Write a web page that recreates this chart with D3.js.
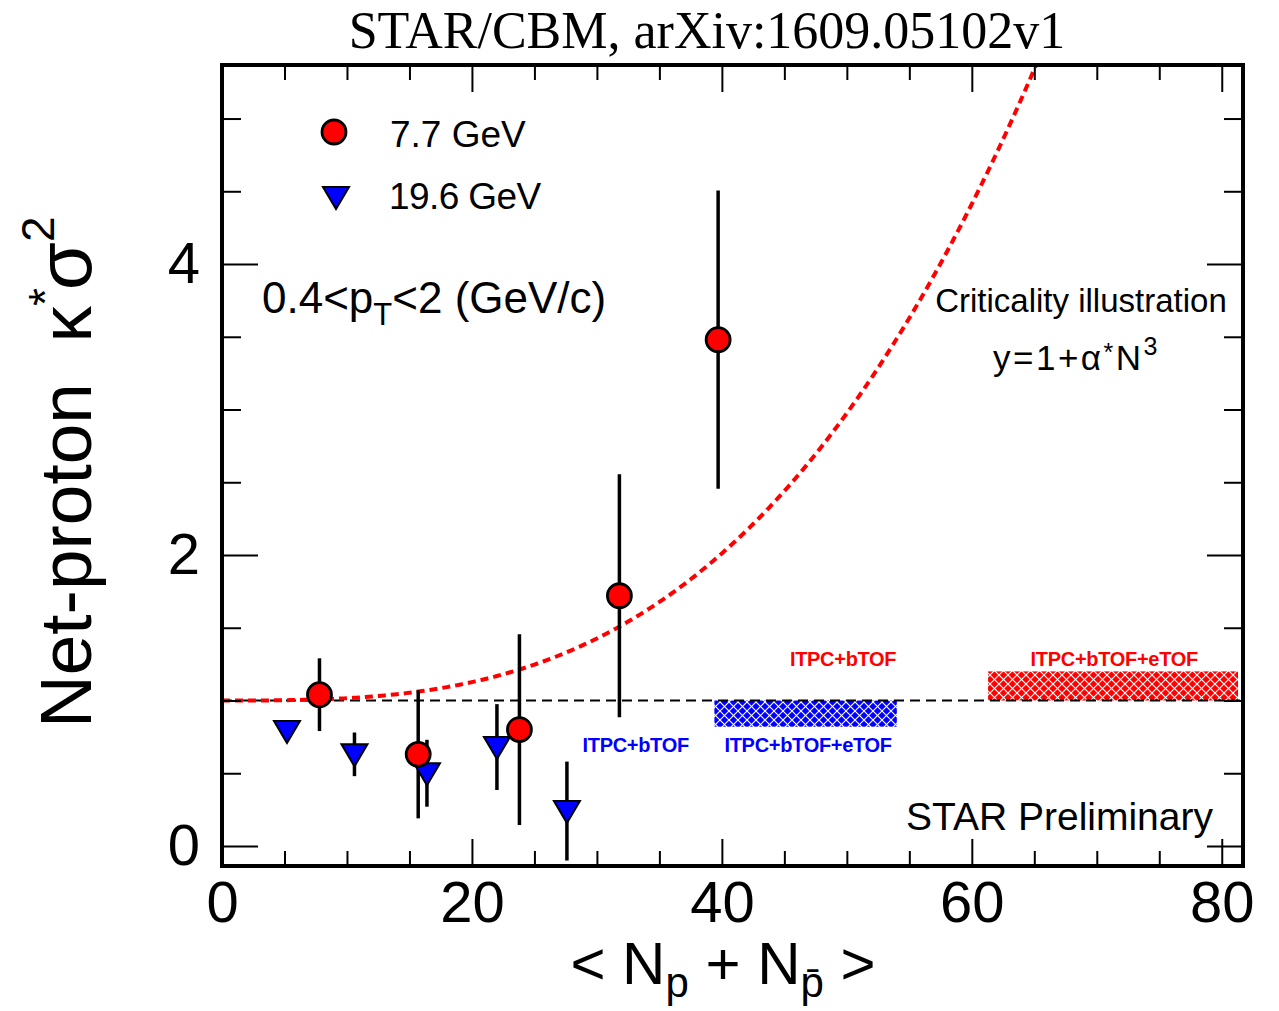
<!DOCTYPE html>
<html>
<head>
<meta charset="utf-8">
<script src="https://cdn.jsdelivr.net/npm/d3@7"></script>
<style>
  html, body { margin: 0; padding: 0; background: #fff; }
  svg { display: block; }
</style>
</head>
<body>
<svg id="chart" width="1279" height="1011"></svg>
<script>
// ---- data ----
const np77  = [7.8, 15.7, 23.8, 31.8, 39.7];
const kap77 = [1.04, 0.63, 0.80, 1.72, 3.48];
const err77 = [0.25, 0.44, 0.655, 0.835, 1.025];

const np196  = [5.2, 10.6, 16.4, 22.0, 27.6];
const kap196 = [0.79, 0.63, 0.50, 0.68, 0.24];
const err196 = [0.0, 0.15, 0.23, 0.295, 0.34];

// projected-uncertainty bands: [xStart, xEnd, yLow, yHigh]
const bandBlue = [[39.4, 54.0, 0.82, 1.0]];
const bandRed  = [[61.3, 74.1, 1.0, 1.20], [74.1, 81.3, 1.0, 1.20]];

// criticality illustration y = 1 + alpha * N^3
const alpha = 1.58e-5;

const xMajor = [0, 20, 40, 60, 80];
const xMinor = [5, 10, 15, 25, 30, 35, 45, 50, 55, 65, 70, 75];
const yMajor = [0, 2, 4];
const yMinor = [0.5, 1, 1.5, 2.5, 3, 3.5, 4.5, 5];

// ---- layout ----
const L = 222, R = 1243, T = 65, B = 866;
const x = d3.scaleLinear().domain([0, 81.7]).range([L, R]);
const y = d3.scaleLinear().domain([-0.1375, 5.368]).range([B, T]);

const svg = d3.select("#chart");
const sans = "'Liberation Sans', Arial, Helvetica, sans-serif";

const defs = svg.append("defs");
defs.append("clipPath").attr("id", "plotClip")
  .append("rect").attr("x", L).attr("y", T).attr("width", R - L).attr("height", B - T);

function hatch(id, color) {
  const p = defs.append("pattern").attr("id", id)
    .attr("patternUnits", "userSpaceOnUse").attr("width", 9).attr("height", 9);
  p.append("rect").attr("width", 9).attr("height", 9).attr("fill", color);
  p.append("path").attr("d", "M0,9 L9,0 M-2,2 L2,-2 M7,11 L11,7")
    .attr("stroke", "#fff").attr("stroke-width", 1.1);
  p.append("path").attr("d", "M0,0 L9,9 M-2,7 L2,11 M7,-2 L11,2")
    .attr("stroke", "#fff").attr("stroke-width", 1.1);
}
hatch("hatchBlue", "#0000ff");
hatch("hatchRed", "#ff0000");

// ---- title ----
svg.append("text").attr("x", 707).attr("y", 48)
  .attr("text-anchor", "middle")
  .attr("font-family", "'Liberation Serif', 'Times New Roman', serif")
  .attr("font-size", 52).attr("fill", "#000")
  .text("STAR/CBM, arXiv:1609.05102v1");

const plot = svg.append("g").attr("clip-path", "url(#plotClip)");

// ---- bands ----
plot.selectAll("rect.bb").data(bandBlue).join("rect").attr("class", "bb")
  .attr("x", d => x(d[0])).attr("width", d => x(d[1]) - x(d[0]))
  .attr("y", d => y(d[3])).attr("height", d => y(d[2]) - y(d[3]))
  .attr("fill", "url(#hatchBlue)");
plot.selectAll("rect.br").data(bandRed).join("rect").attr("class", "br")
  .attr("x", d => x(d[0])).attr("width", d => x(d[1]) - x(d[0]))
  .attr("y", d => y(d[3])).attr("height", d => y(d[2]) - y(d[3]))
  .attr("fill", "url(#hatchRed)");

// ---- reference line at 1 ----
plot.append("line")
  .attr("x1", x(0)).attr("x2", x(81.7)).attr("y1", y(1)).attr("y2", y(1))
  .attr("stroke", "#000").attr("stroke-width", 2.2).attr("stroke-dasharray", "10,6");

// ---- criticality curve ----
const curveN = d3.range(0, 68.01, 0.25);
plot.append("path")
  .datum(curveN)
  .attr("d", d3.line().x(n => x(n)).y(n => y(1 + alpha * n * n * n)))
  .attr("fill", "none").attr("stroke", "#ff0000").attr("stroke-width", 4)
  .attr("stroke-dasharray", "8,5");

// ---- error bars ----
function errBars(cls, xs, ys, es) {
  plot.selectAll("line." + cls).data(xs.map((v, i) => [v, ys[i], es[i]]).filter(d => d[2] > 0))
    .join("line").attr("class", cls)
    .attr("x1", d => x(d[0])).attr("x2", d => x(d[0]))
    .attr("y1", d => y(d[1] - d[2])).attr("y2", d => y(d[1] + d[2]))
    .attr("stroke", "#000").attr("stroke-width", 3.5);
}
errBars("e196", np196, kap196, err196);
errBars("e77", np77, kap77, err77);

// ---- markers ----
const triPath = "M-13,-10 L13,-10 L0,12 Z";
plot.selectAll("path.t196").data(np196.map((v, i) => [v, kap196[i]])).join("path")
  .attr("class", "t196")
  .attr("d", triPath)
  .attr("transform", d => `translate(${x(d[0])},${y(d[1])})`)
  .attr("fill", "#0000ff").attr("stroke", "#000").attr("stroke-width", 2).attr("stroke-linejoin", "miter");

plot.selectAll("circle.c77").data(np77.map((v, i) => [v, kap77[i]])).join("circle")
  .attr("class", "c77")
  .attr("cx", d => x(d[0])).attr("cy", d => y(d[1])).attr("r", 12)
  .attr("fill", "#ff0000").attr("stroke", "#000").attr("stroke-width", 2.8);

// ---- axes ----
function styleAxis(g) {
  g.select(".domain").remove();
  g.selectAll(".tick line").attr("stroke", "#000").attr("stroke-width", 2);
  g.selectAll(".tick text").attr("font-family", sans).attr("fill", "#000");
}
// bottom
svg.append("g").attr("transform", `translate(0,${B})`)
  .call(d3.axisBottom(x).tickValues(xMajor).tickSizeInner(-27).tickSizeOuter(0).tickPadding(15).tickFormat(d3.format("d")))
  .call(styleAxis)
  .call(g => g.selectAll(".tick text").attr("font-size", 58));
svg.append("g").attr("transform", `translate(0,${B})`)
  .call(d3.axisBottom(x).tickValues(xMinor).tickSizeInner(-15).tickSizeOuter(0).tickFormat(""))
  .call(styleAxis);
// top
svg.append("g").attr("transform", `translate(0,${T})`)
  .call(d3.axisTop(x).tickValues(xMajor).tickSizeInner(-27).tickSizeOuter(0).tickFormat(""))
  .call(styleAxis);
svg.append("g").attr("transform", `translate(0,${T})`)
  .call(d3.axisTop(x).tickValues(xMinor).tickSizeInner(-15).tickSizeOuter(0).tickFormat(""))
  .call(styleAxis);
// left
svg.append("g").attr("transform", `translate(${L},0)`)
  .call(d3.axisLeft(y).tickValues(yMajor).tickSizeInner(-36).tickSizeOuter(0).tickPadding(22).tickFormat(d3.format("d")))
  .call(styleAxis)
  .call(g => g.selectAll(".tick text").attr("font-size", 58));
svg.append("g").attr("transform", `translate(${L},0)`)
  .call(d3.axisLeft(y).tickValues(yMinor).tickSizeInner(-19).tickSizeOuter(0).tickFormat(""))
  .call(styleAxis);
// right
svg.append("g").attr("transform", `translate(${R},0)`)
  .call(d3.axisRight(y).tickValues(yMajor).tickSizeInner(-36).tickSizeOuter(0).tickFormat(""))
  .call(styleAxis);
svg.append("g").attr("transform", `translate(${R},0)`)
  .call(d3.axisRight(y).tickValues(yMinor).tickSizeInner(-19).tickSizeOuter(0).tickFormat(""))
  .call(styleAxis);

// frame
svg.append("rect").attr("x", L).attr("y", T).attr("width", R - L).attr("height", B - T)
  .attr("fill", "none").attr("stroke", "#000").attr("stroke-width", 4);

// ---- axis titles ----
const xt = svg.append("text").attr("x", 723).attr("y", 984)
  .attr("text-anchor", "middle").attr("font-family", sans).attr("font-size", 60).attr("fill", "#000");
xt.append("tspan").text("< N");
xt.append("tspan").attr("dy", 13).attr("font-size", 42).text("p");
xt.append("tspan").attr("dy", -13).text(" + N");
xt.append("tspan").attr("dy", 13).attr("font-size", 42).text("p\u0304");
xt.append("tspan").attr("dy", -13).text(" >");

const yt = svg.append("text")
  .attr("transform", "translate(91,728) rotate(-90)")
  .attr("font-family", sans).attr("font-size", 73).attr("fill", "#000");
yt.append("tspan").text("Net-proton\u00a0\u00a0\u03ba");
yt.append("tspan").attr("dy", -30).attr("font-size", 46).text("*");
yt.append("tspan").attr("dx", -2).attr("dy", 30).attr("font-size", 78).text("\u03c3");
yt.append("tspan").attr("dy", -37).attr("font-size", 46).text("2");

// ---- legend ----
svg.append("circle").attr("cx", 334).attr("cy", 132).attr("r", 12)
  .attr("fill", "#ff0000").attr("stroke", "#000").attr("stroke-width", 2.8);
svg.append("path").attr("d", triPath).attr("transform", "translate(336,197)")
  .attr("fill", "#0000ff").attr("stroke", "#000").attr("stroke-width", 2);
svg.append("text").attr("x", 390).attr("y", 147).attr("font-family", sans)
  .attr("font-size", 37).attr("fill", "#000").text("7.7 GeV");
svg.append("text").attr("x", 389).attr("y", 209).attr("font-family", sans)
  .attr("font-size", 37).attr("letter-spacing", -0.6).attr("fill", "#000").text("19.6 GeV");

// ---- annotations ----
const pt = svg.append("text").attr("x", 262).attr("y", 313).attr("font-family", sans)
  .attr("font-size", 44).attr("fill", "#000");
pt.append("tspan").text("0.4<p");
pt.append("tspan").attr("dy", 12).attr("font-size", 31).text("T");
pt.append("tspan").attr("dy", -12).text("<2 (GeV/c)");

svg.append("text").attr("x", 1081).attr("y", 312).attr("text-anchor", "middle")
  .attr("font-family", sans).attr("font-size", 33).attr("fill", "#000")
  .text("Criticality illustration");
const fx = svg.append("text").attr("x", 993).attr("y", 370)
  .attr("font-family", sans).attr("font-size", 35).attr("letter-spacing", 2.5).attr("fill", "#000");
fx.append("tspan").text("y=1+\u03b1");
fx.append("tspan").attr("dy", -9).attr("font-size", 25).text("*");
fx.append("tspan").attr("dy", 9).text("N");
fx.append("tspan").attr("dy", -15).attr("font-size", 25).text("3");

svg.append("text").attr("x", 1213).attr("y", 830).attr("text-anchor", "end")
  .attr("font-family", sans).attr("font-size", 39).attr("fill", "#000")
  .text("STAR Preliminary");

// band labels
const bandLabels = [
  { t: "ITPC+bTOF", xv: 49.7, yv: 1.237, c: "#ff0000" },
  { t: "ITPC+bTOF+eTOF", xv: 71.4, yv: 1.237, c: "#ff0000" },
  { t: "ITPC+bTOF", xv: 33.1, yv: 0.646, c: "#0000ff" },
  { t: "ITPC+bTOF+eTOF", xv: 46.9, yv: 0.646, c: "#0000ff" }
];
svg.selectAll("text.bl").data(bandLabels).join("text").attr("class", "bl")
  .attr("x", d => x(d.xv)).attr("y", d => y(d.yv))
  .attr("text-anchor", "middle").attr("font-family", sans)
  .attr("font-size", 20).attr("font-weight", "bold").attr("letter-spacing", -0.3)
  .attr("fill", d => d.c)
  .text(d => d.t);
</script>
</body>
</html>
